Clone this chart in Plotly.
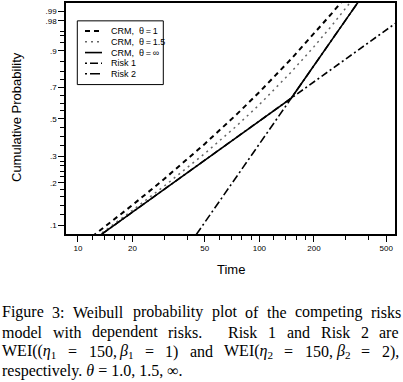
import re
import numpy as np
import plotly.graph_objects as go

# ---------------- data (time, cumulative probability) ----------------
crm_times = [10, 15, 20, 30, 50, 75, 100, 150, 200, 250, 300, 350, 400]
crm_theta1_p = [0.0686, 0.1042, 0.1402, 0.2134, 0.3588, 0.5276, 0.6708,
                0.8647, 0.9554, 0.98826, 0.997521, 0.999581, 0.999943]
crm_theta15_p = [0.0652, 0.0971, 0.1286, 0.1908, 0.3126, 0.4576, 0.5896,
                 0.7955, 0.9164, 0.9722, 0.992517, 0.998373, 0.999714]
crm_inf_times = [10, 50, 150, 300, 400]
crm_inf_p = [0.0645, 0.2835, 0.6321, 0.9817, 0.999185]
risk1_times = [10, 50, 150, 600]
risk1_p = [0.0645, 0.2835, 0.6321, 0.9817]
risk2_times = [40, 100, 150, 300, 400]
risk2_p = [0.0686, 0.3588, 0.6321, 0.9817, 0.999185]

x_tick_vals = [10, 20, 50, 100, 200, 500]
x_tick_text = ["10", "20", "50", "100", "200", "500"]
x_minor_vals = [12, 14, 16, 18, 30, 40, 60, 70, 80, 90, 120, 140, 160, 180, 300, 400]
y_tick_probs = [0.1, 0.2, 0.3, 0.5, 0.7, 0.9, 0.98, 0.99]
y_tick_text = [".1", ".2", ".3", ".5", ".7", ".9", ".98", ".99"]
y_minor_probs = [0.12, 0.14, 0.16, 0.18, 0.22, 0.24, 0.26, 0.28, 0.35, 0.4, 0.45,
                 0.55, 0.6, 0.65, 0.75, 0.8, 0.85, 0.93, 0.95, 0.96]


def weib(p):
    """Weibull probability scale: log10(-ln(1-p))."""
    return np.log10(-np.log(1 - np.asarray(p, dtype=float)))


fig = go.Figure()
fig.add_trace(go.Scatter(x=risk1_times, y=weib(risk1_p), mode="lines", name="Risk 1",
                         line=dict(color="black", width=1.6, dash="7px,3px,2px,3px")))
fig.add_trace(go.Scatter(x=risk2_times, y=weib(risk2_p), mode="lines", name="Risk 2",
                         line=dict(color="black", width=1.6, dash="8px,3px,2px,3px")))
fig.add_trace(go.Scatter(x=crm_times, y=weib(crm_theta15_p), mode="lines", name="CRM θ=1.5",
                         line=dict(color="#666666", width=1.5, dash="2px,4px")))
fig.add_trace(go.Scatter(x=crm_times, y=weib(crm_theta1_p), mode="lines", name="CRM θ=1",
                         line=dict(color="black", width=2, dash="5px,4px")))
fig.add_trace(go.Scatter(x=crm_inf_times, y=weib(crm_inf_p), mode="lines", name="CRM θ=∞",
                         line=dict(color="black", width=1.6)))

ML, MR, MT, MB = 66, 8, 1, 148
W, H = 403, 382
PW, PH = W - ML - MR, H - MT - MB


def px2x(px):
    return (px - ML) / PW


def px2y(py):
    return (H - MB - py) / PH


axis_common = dict(showline=True, linecolor="black", linewidth=1.5, mirror=True,
                   showgrid=False, zeroline=False, ticks="outside", ticklen=6,
                   tickwidth=1, tickcolor="black",
                   tickfont=dict(family="Liberation Sans, Arial", size=8, color="black"))

fig.update_xaxes(type="log", range=[np.log10(8.6), np.log10(559)], tickmode="array",
                 tickvals=x_tick_vals, ticktext=x_tick_text,
                 minor=dict(tickmode="array", tickvals=x_minor_vals, ticks="outside",
                            ticklen=4, tickcolor="black", showgrid=False),
                 **axis_common)
fig.update_yaxes(range=[-1.0435, 0.7297], tickmode="array",
                 tickvals=list(weib(y_tick_probs)), ticktext=y_tick_text,
                 minor=dict(tickmode="array", tickvals=list(weib(y_minor_probs)),
                            ticks="outside", ticklen=4, tickcolor="black", showgrid=False),
                 **axis_common)

annotations = []
shapes = []

# axis titles
annotations.append(dict(text="Cumulative Probability", x=px2x(16), y=px2y(116),
                        xref="paper", yref="paper", textangle=-90, showarrow=False,
                        xanchor="center", yanchor="middle",
                        font=dict(family="Liberation Sans, Arial", size=13, color="black")))
annotations.append(dict(text="Time", x=px2x(231), y=px2y(269.5), xref="paper", yref="paper",
                        showarrow=False, xanchor="center", yanchor="middle",
                        font=dict(family="Liberation Sans, Arial", size=13, color="black")))

# manual legend
shapes.append(dict(type="rect", xref="paper", yref="paper", x0=px2x(77.3), x1=px2x(163.3),
                   y0=px2y(19), y1=px2y(83.3), line=dict(color="black", width=1),
                   fillcolor="white", layer="above"))
TS = "\u2009"
leg_items = [("CRM,\u00a0\u00a0θ" + TS + "=" + TS + "1", dict(color="black", width=2, dash="5px,4px")),
             ("CRM,\u00a0\u00a0θ" + TS + "=" + TS + "1.5", dict(color="#666666", width=1.5, dash="2px,4px")),
             ("CRM,\u00a0\u00a0θ" + TS + "=" + TS + "∞", dict(color="black", width=1.6)),
             ("Risk 1", dict(color="black", width=1.6, dash="2px,3px,8px,3px")),
             ("Risk 2", dict(color="black", width=1.6, dash="2px,3px,10px,3px"))]
leg_rows = [29.3, 40, 51, 61.7, 72.3]
for (txt, ln), ry in zip(leg_items, leg_rows):
    shapes.append(dict(type="line", xref="paper", yref="paper", x0=px2x(85), x1=px2x(102),
                       y0=px2y(ry), y1=px2y(ry), line=ln, layer="above"))
    annotations.append(dict(text=txt, x=px2x(109), y=px2y(ry), xref="paper", yref="paper",
                            showarrow=False, xanchor="left", yanchor="middle",
                            font=dict(family="Liberation Sans, Arial", size=9, color="black")))

# caption (justified, Times-metric widths)
FS = 16
TIMES = {}
for ch, w in zip("abcdefghijklmnopqrstuvwxyz",
                 [444, 500, 444, 500, 444, 333, 500, 500, 278, 278, 500, 278, 778, 500, 500,
                  500, 500, 333, 389, 278, 500, 500, 722, 500, 500, 444]):
    TIMES[ch] = w
for ch, w in zip("ABCDEFGHIJKLMNOPQRSTUVWXYZ",
                 [722, 667, 667, 722, 611, 556, 722, 722, 333, 389, 722, 611, 889, 722, 722,
                  556, 722, 667, 556, 611, 722, 722, 944, 722, 722, 611]):
    TIMES[ch] = w
TIMES.update({" ": 250, ".": 250, ",": 250, ":": 278, "(": 333, ")": 333, "=": 564,
              "η": 500, "β": 520, "θ": 500, "∞": 713})
for d in "0123456789":
    TIMES[d] = 500


def measure(html):
    w, sub = 0.0, False
    for part in re.split(r"(<[^>]+>)", html):
        if part.startswith("<"):
            if part == "<sub>":
                sub = True
            elif part == "</sub>":
                sub = False
            continue
        for ch in part:
            w += TIMES.get(ch, 500) * (0.7 if sub else 1.0)
    return w / 1000 * FS


cap_font = dict(family="Liberation Serif, Times New Roman", size=FS, color="black")


def place_tokens(tokens, x0, x1, ypix, weights=None, naturals=None):
    n = len(tokens)
    widths = [measure(t) for t in tokens]
    if weights is None:
        weights = [1.0] * (n - 1)
    if naturals is None:
        naturals = [4.0] * (n - 1)
    extra = (x1 - x0) - sum(widths) - sum(naturals)
    e = extra / sum(weights)
    x = x0
    for i, t in enumerate(tokens):
        annotations.append(dict(text=t, x=px2x(x), y=px2y(ypix), xref="paper", yref="paper",
                                showarrow=False, xanchor="left", yanchor="middle",
                                borderpad=0, font=cap_font))
        if i < n - 1:
            x += widths[i] + naturals[i] + weights[i] * e


line1 = ["Figure", "3:", "Weibull", "probability", "plot", "of", "the", "competing", "risks"]
place_tokens(line1, 1, 400, 313)

line2 = ["model", "with", "dependent", "risks.", "Risk", "1", "and", "Risk", "2", "are"]
w2 = [1, 1, 1, 3, 1, 1, 1, 1, 1]
n2 = [4.0, 4.0, 4.0, 5.4, 4.0, 4.0, 4.0, 4.0, 4.0]
place_tokens(line2, 1, 398, 333, w2, n2)

line3 = ["WEI((<i>η</i><sub>1</sub>", "=", "150,", "<i>β</i><sub>1</sub>", "=", "1)", "and",
         "WEI(<i>η</i><sub>2</sub>", "=", "150,", "<i>β</i><sub>2</sub>", "=", "2),"]
w3 = [1, 1, 0, 1, 1, 1, 1, 1, 1, 0, 1, 1]
n3 = [4.4, 4.4, 2.7, 4.4, 4.4, 4.0, 4.0, 4.4, 4.4, 2.7, 4.4, 4.4]
place_tokens(line3, 1, 398, 353, w3, n3)

annotations.append(dict(text="respectively. <i>θ</i> = 1.0, 1.5, ∞.", x=px2x(1), y=px2y(372),
                        xref="paper", yref="paper", showarrow=False, xanchor="left",
                        yanchor="middle", borderpad=0, font=cap_font))

fig.update_layout(width=W, height=H, margin=dict(l=ML, r=MR, t=MT, b=MB),
                  plot_bgcolor="white", paper_bgcolor="white", showlegend=False,
                  annotations=annotations, shapes=shapes)

fig.write_html("out.html", config={"displayModeBar": False},
               post_script="document.body.style.margin='0';document.body.style.padding='0';")
